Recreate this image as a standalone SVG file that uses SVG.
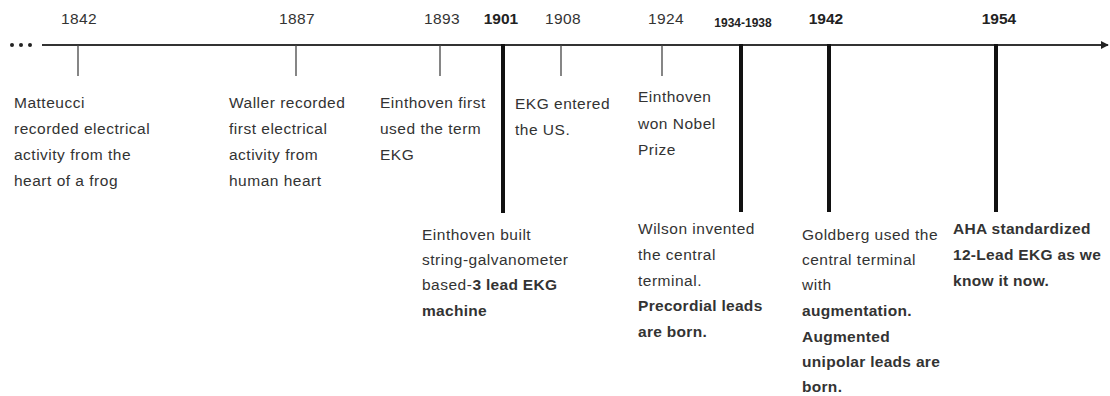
<svg xmlns="http://www.w3.org/2000/svg" width="1110" height="396" viewBox="0 0 1110 396">
<defs>
<marker id="arr" viewBox="0 0 10 10" refX="9" refY="5" markerWidth="4" markerHeight="4" orient="auto" markerUnits="strokeWidth"><path d="M0,0 L10,5 L0,10 Z" fill="#222"/></marker>
<style>
text{font-family:"Liberation Sans",Arial,sans-serif;fill:#333;}
.yr{font-size:15.5px;text-anchor:middle;letter-spacing:0.4px;}
.yb{font-size:15.5px;font-weight:bold;text-anchor:middle;fill:#222;}
.t{font-size:15.5px;letter-spacing:0.5px;}
.b{font-weight:bold;letter-spacing:0.3px;}
.thin{stroke:#444;stroke-width:1.3;}
.thick{stroke:#111;stroke-width:4;}
</style>
</defs>
<rect width="1110" height="396" fill="#fff"/>
<g id="connectors">
<circle cx="12" cy="45" r="2" fill="#222"/>
<circle cx="21" cy="45" r="2" fill="#222"/>
<circle cx="30" cy="45" r="2" fill="#222"/>
<line x1="42" y1="45" x2="1108" y2="45" stroke="#333" stroke-width="2" marker-end="url(#arr)"/>
<line class="thin" x1="78" y1="45" x2="78" y2="76"/>
<line class="thin" x1="296" y1="45" x2="296" y2="76"/>
<line class="thin" x1="440" y1="45" x2="440" y2="76"/>
<line class="thick" x1="503" y1="44" x2="503" y2="213"/>
<line class="thin" x1="561" y1="45" x2="561" y2="76"/>
<line class="thin" x1="662" y1="45" x2="662" y2="76"/>
<line class="thick" x1="741" y1="44" x2="741" y2="212"/>
<line class="thick" x1="829" y1="44" x2="829" y2="212"/>
<line class="thick" x1="996" y1="44" x2="996" y2="212"/>
</g>
<g id="n1842">
<text class="yr" x="79" y="24">1842</text>
<text class="t" x="14" y="108">Matteucci</text>
<text class="t" x="14" y="134">recorded electrical</text>
<text class="t" x="14" y="160">activity from the</text>
<text class="t" x="14" y="186">heart of a frog</text>
</g>
<g id="n1887">
<text class="yr" x="297" y="24">1887</text>
<text class="t" x="229" y="108">Waller recorded</text>
<text class="t" x="229" y="134">first electrical</text>
<text class="t" x="229" y="160">activity from</text>
<text class="t" x="229" y="186">human heart</text>
</g>
<g id="n1893">
<text class="yr" x="442" y="24">1893</text>
<text class="t" x="380" y="108">Einthoven first</text>
<text class="t" x="380" y="134">used the term</text>
<text class="t" x="380" y="160">EKG</text>
</g>
<g id="n1901">
<text class="yb" x="501" y="24">1901</text>
<text class="t" x="422" y="240">Einthoven built</text>
<text class="t" x="422" y="265">string-galvanometer</text>
<text class="t" x="422" y="290">based-<tspan class="b">3 lead EKG</tspan></text>
<text class="t b" x="422" y="316">machine</text>
</g>
<g id="n1908">
<text class="yr" x="563" y="24">1908</text>
<text class="t" x="515" y="109">EKG entered</text>
<text class="t" x="515" y="135">the US.</text>
</g>
<g id="n1924">
<text class="yr" x="666" y="24">1924</text>
<text class="t" x="638" y="102">Einthoven</text>
<text class="t" x="638" y="129">won Nobel</text>
<text class="t" x="638" y="155">Prize</text>
<text class="t" x="638" y="234">Wilson invented</text>
<text class="t" x="638" y="260">the central</text>
<text class="t" x="638" y="286">terminal.</text>
<text class="t b" x="638" y="311">Precordial leads</text>
<text class="t b" x="638" y="337">are born.</text>
</g>
<g id="n1934">
<text class="yb" x="743" y="27" style="font-size:12px">1934-1938</text>
</g>
<g id="n1942">
<text class="yb" x="826" y="24">1942</text>
<text class="t" x="802" y="240">Goldberg used the</text>
<text class="t" x="802" y="265">central terminal</text>
<text class="t" x="802" y="290">with</text>
<text class="t b" x="802" y="316">augmentation.</text>
<text class="t b" x="802" y="342">Augmented</text>
<text class="t b" x="802" y="367">unipolar leads are</text>
<text class="t b" x="802" y="392">born.</text>
</g>
<g id="n1954">
<text class="yb" x="999" y="24">1954</text>
<text class="t b" x="953" y="234">AHA standardized</text>
<text class="t b" x="953" y="260">12-Lead EKG as we</text>
<text class="t b" x="953" y="286">know it now.</text>
</g>
</svg>
